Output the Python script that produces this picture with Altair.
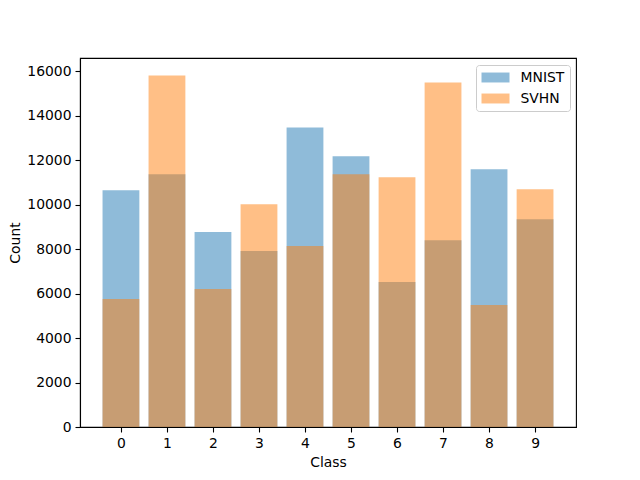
import altair as alt
import pandas as pd

classes = [0, 1, 2, 3, 4, 5, 6, 7, 8, 9]
mnist = [10646, 11364, 8762, 7909, 13470, 12170, 6520, 8400, 11590, 9345]
svhn = [5756, 15805, 6205, 10018, 8134, 11364, 11230, 15490, 5490, 10690]

rows = []
for c, m in zip(classes, mnist):
    rows.append({"Class": c, "Count": m, "Dataset": "MNIST", "order": 0})
for c, s in zip(classes, svhn):
    rows.append({"Class": c, "Count": s, "Dataset": "SVHN", "order": 1})
df = pd.DataFrame(rows)

font = "DejaVu Sans"

chart = alt.Chart(df).transform_calculate(
    x0="datum.Class - 0.4", x1="datum.Class + 0.4"
).mark_rect(opacity=0.5).encode(
    x=alt.X("x0:Q", scale=alt.Scale(domain=[-0.89, 9.89], nice=False, zero=False),
            axis=alt.Axis(values=classes, title="Class", grid=False, format="d",
                          tickSize=5, labelPadding=4, titlePadding=6)),
    x2="x1:Q",
    y=alt.Y("Count:Q", scale=alt.Scale(domain=[0, 16590], nice=False),
            axis=alt.Axis(values=[0, 2000, 4000, 6000, 8000, 10000, 12000, 14000, 16000],
                          title="Count", grid=False, format="d",
                          tickSize=5, labelPadding=4, titlePadding=4)),
    y2=alt.datum(0),
    color=alt.Color("Dataset:N",
                    scale=alt.Scale(domain=["MNIST", "SVHN"], range=["#1f77b4", "#ff7f0e"]),
                    legend=alt.Legend(title=None, orient="none", legendX=396, legendY=7,
                                      symbolType="M-2,-0.71H2V0.71H-2Z", symbolSize=196,
                                      symbolOpacity=0.5, symbolStrokeWidth=0,
                                      symbolOffset=7,
                                      labelFontSize=13.9, labelFont=font, labelColor="#000",
                                      rowPadding=7, labelOffset=18,
                                      strokeColor="#cccccc", cornerRadius=3, padding=5.5,
                                      fillColor="white")),
    order=alt.Order("order:Q"),
).properties(
    width=496, height=369,
    autosize=alt.AutoSizeParams(type="none"),
    padding={"left": 72, "top": 50, "right": 56, "bottom": 45},
).configure_view(
    stroke="black", strokeWidth=1.1
).configure_axis(
    domainColor="black", tickColor="black", labelColor="black", titleColor="black",
    labelFont=font, titleFont=font, labelFontSize=13.9, titleFontSize=13.9,
    titleFontWeight="normal", domainWidth=1.1, tickWidth=1.1
)

chart.save("out.html", embed_options={"renderer": "svg", "actions": False})
